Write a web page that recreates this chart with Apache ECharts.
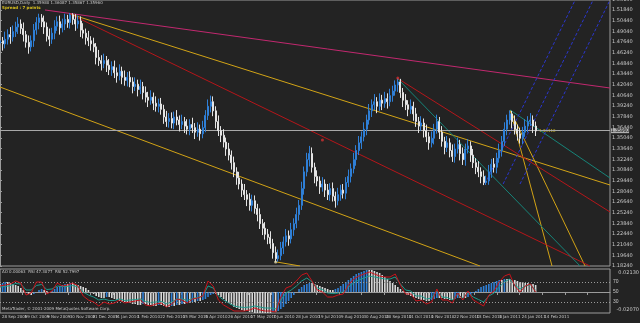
<!DOCTYPE html>
<html><head><meta charset="utf-8">
<script src="https://cdn.jsdelivr.net/npm/echarts@6/dist/echarts.min.js"></script>
<style>html,body{margin:0;padding:0;background:#232323;}#c{width:640px;height:323px;}</style>
</head><body><div id="c"></div>
<script>
// ---- data ----
const firstOpen = 1.475;
const closes = [1.478,1.474,1.480,1.486,1.483,1.490,1.496,1.500,1.494,1.486,
1.476,1.470,1.478,1.492,1.502,1.508,1.503,1.496,1.484,1.480,
1.488,1.497,1.503,1.495,1.500,1.506,1.502,1.512,1.506,1.500,
1.504,1.492,1.488,1.482,1.478,1.474,1.470,1.456,1.452,1.448,
1.452,1.446,1.440,1.444,1.436,1.432,1.438,1.430,1.426,1.430,
1.424,1.418,1.421,1.414,1.418,1.410,1.404,1.400,1.404,1.396,
1.392,1.395,1.388,1.378,1.372,1.376,1.370,1.378,1.374,1.368,
1.372,1.366,1.362,1.368,1.364,1.358,1.362,1.356,1.364,1.380,
1.392,1.398,1.386,1.372,1.360,1.354,1.345,1.336,1.328,1.318,
1.306,1.298,1.290,1.282,1.276,1.270,1.262,1.268,1.258,1.250,
1.238,1.232,1.224,1.220,1.212,1.200,1.192,1.196,1.206,1.214,
1.222,1.218,1.230,1.238,1.250,1.262,1.284,1.306,1.322,1.330,
1.312,1.300,1.294,1.286,1.290,1.282,1.276,1.284,1.274,1.268,
1.276,1.282,1.278,1.292,1.300,1.310,1.322,1.334,1.344,1.352,
1.362,1.374,1.386,1.394,1.398,1.392,1.400,1.396,1.402,1.398,
1.406,1.412,1.420,1.424,1.410,1.400,1.394,1.388,1.392,1.382,
1.372,1.366,1.370,1.360,1.352,1.344,1.350,1.362,1.372,1.358,
1.346,1.338,1.344,1.334,1.326,1.336,1.342,1.330,1.322,1.336,
1.340,1.328,1.318,1.312,1.306,1.300,1.292,1.294,1.306,1.316,
1.312,1.324,1.334,1.346,1.362,1.374,1.382,1.372,1.362,1.356,
1.350,1.358,1.366,1.372,1.374,1.366,1.3596];
const highs = [1.486,1.483,1.490,1.493,1.496,1.498,1.503,1.509,1.506,1.502,
1.491,1.485,1.485,1.500,1.509,1.5135,1.513,1.511,1.502,1.494,
1.495,1.505,1.510,1.511,1.507,1.5135,1.512,1.5144,1.5142,1.513,
1.511,1.510,1.501,1.494,1.491,1.484,1.482,1.475,1.466,1.459,
1.461,1.458,1.454,1.451,1.452,1.443,1.447,1.444,1.439,1.437,
1.438,1.430,1.430,1.427,1.427,1.424,1.418,1.411,1.413,1.410,
1.405,1.402,1.403,1.394,1.386,1.383,1.384,1.385,1.387,1.380,
1.381,1.378,1.375,1.375,1.377,1.370,1.371,1.368,1.373,1.387,
1.401,1.406,1.405,1.392,1.380,1.366,1.362,1.351,1.344,1.334,
1.326,1.312,1.306,1.296,1.290,1.282,1.278,1.276,1.275,1.264,
1.258,1.244,1.240,1.231,1.228,1.218,1.208,1.204,1.214,1.221,
1.231,1.229,1.239,1.245,1.259,1.269,1.293,1.313,1.331,1.340,
1.338,1.318,1.308,1.300,1.299,1.296,1.290,1.291,1.292,1.280,
1.285,1.289,1.290,1.299,1.309,1.317,1.331,1.341,1.353,1.359,
1.371,1.381,1.395,1.401,1.408,1.404,1.409,1.407,1.411,1.409,
1.415,1.419,1.426,1.4291,1.428,1.416,1.408,1.400,1.401,1.398,
1.390,1.378,1.379,1.376,1.368,1.358,1.359,1.369,1.381,1.378,
1.366,1.352,1.353,1.350,1.342,1.343,1.351,1.348,1.338,1.343,
1.349,1.346,1.336,1.324,1.320,1.312,1.308,1.301,1.315,1.323,
1.324,1.331,1.343,1.353,1.371,1.381,1.3865,1.386,1.380,1.368,
1.364,1.365,1.375,1.379,1.383,1.380,1.372];
const lows = [1.467,1.465,1.468,1.473,1.474,1.477,1.483,1.487,1.487,1.477,
1.469,1.461,1.464,1.470,1.486,1.493,1.496,1.487,1.477,1.471,
1.474,1.480,1.491,1.486,1.489,1.492,1.495,1.494,1.499,1.491,
1.494,1.483,1.481,1.473,1.471,1.465,1.463,1.447,1.445,1.439,
1.442,1.437,1.433,1.432,1.429,1.423,1.426,1.421,1.419,1.418,
1.417,1.409,1.412,1.405,1.408,1.401,1.397,1.391,1.394,1.387,
1.385,1.384,1.381,1.369,1.365,1.364,1.363,1.362,1.367,1.359,
1.362,1.357,1.355,1.354,1.357,1.349,1.352,1.347,1.350,1.358,
1.374,1.384,1.379,1.363,1.353,1.345,1.338,1.327,1.321,1.309,
1.299,1.289,1.283,1.273,1.269,1.261,1.255,1.254,1.251,1.241,
1.231,1.223,1.217,1.211,1.205,1.192,1.1876,1.188,1.190,1.198,
1.208,1.209,1.212,1.222,1.232,1.242,1.256,1.276,1.300,1.313,
1.305,1.291,1.287,1.277,1.280,1.273,1.269,1.268,1.267,1.259,
1.262,1.268,1.271,1.270,1.286,1.292,1.304,1.314,1.328,1.336,
1.346,1.354,1.368,1.378,1.387,1.383,1.386,1.387,1.390,1.389,
1.392,1.398,1.406,1.411,1.403,1.391,1.387,1.379,1.382,1.373,
1.365,1.357,1.360,1.351,1.345,1.335,1.338,1.342,1.356,1.349,
1.339,1.329,1.332,1.325,1.319,1.318,1.330,1.321,1.315,1.314,
1.330,1.319,1.311,1.303,1.299,1.291,1.2886,1.2888,1.289,1.298,
1.305,1.304,1.318,1.326,1.340,1.354,1.368,1.363,1.355,1.347,
1.343,1.342,1.352,1.358,1.366,1.357,1.353];
const aoValues = [0.008,0.009,0.010,0.010,0.009,0.008,0.007,0.006,
0.004,0.002,0.000,-0.002,-0.003,-0.002,0.000,0.002,0.003,0.002,0.001,0.000,0.001,0.003,0.005,
0.006,0.007,0.008,0.008,0.009,0.009,0.008,0.007,0.006,0.005,0.004,0.002,0.000,
-0.002,-0.004,-0.005,-0.006,-0.006,-0.005,-0.005,-0.006,-0.007,-0.008,
-0.009,-0.010,-0.010,-0.011,-0.011,-0.012,-0.012,-0.013,-0.013,-0.012,-0.012,-0.013,-0.013,-0.014,-0.014,-0.013,
-0.013,-0.014,-0.015,-0.015,-0.014,-0.014,-0.013,-0.013,-0.012,-0.012,-0.011,-0.011,-0.010,-0.010,-0.009,-0.009,
-0.008,-0.007,-0.005,-0.003,-0.002,-0.002,-0.003,-0.005,-0.007,-0.009,
-0.011,-0.013,-0.015,-0.016,-0.017,-0.018,-0.019,-0.019,-0.020,-0.020,-0.021,-0.021,-0.021,-0.021,-0.021,-0.021,-0.021,-0.020,-0.020,-0.019,-0.017,-0.015,-0.012,
-0.009,-0.006,-0.003,0.000,0.003,0.005,0.007,0.008,0.009,0.009,0.008,0.007,0.006,0.005,0.004,0.003,0.002,0.002,0.003,0.004,
0.006,0.008,0.010,0.012,0.014,0.016,0.018,0.019,0.020,0.021,0.022,0.022,0.022,0.021,0.020,0.019,0.017,0.015,0.013,0.011,0.009,0.007,0.005,
0.003,0.001,-0.001,-0.003,-0.004,-0.005,-0.006,-0.007,-0.008,-0.008,-0.009,-0.009,-0.008,-0.007,-0.006,-0.006,-0.006,-0.007,-0.007,-0.008,-0.008,-0.007,-0.006,-0.006,-0.006,-0.006,-0.005,-0.003,
-0.001,0.001,0.003,0.005,0.006,0.007,0.008,0.009,0.010,0.011,0.012,0.012,0.013,0.013,0.013,0.012,0.012,0.011,0.010,0.010,0.009,0.009,0.008,0.008,0.007];
// RSI lines, one point every 2 bars
const rsiRed = [62,64,66,72,68,44,48,70,70,46,
52,68,62,64,68,62,42,34,30,22,
30,26,28,34,28,30,32,34,24,22,
26,28,20,26,36,34,28,36,38,42,
72,62,34,24,18,12,12,12,14,18,
14,12,12,10,40,58,62,72,84,88,
72,54,50,40,40,44,46,64,76,82,
86,90,86,82,80,80,86,64,46,46,
32,34,26,30,56,34,34,28,48,34,
52,34,28,22,44,52,70,82,86,62,
50,62,66,50];
const rsiTeal = [60,61,63,67,66,54,54,63,65,55,
56,62,61,61,63,60,50,44,40,34,
36,33,33,36,33,34,35,36,31,29,
30,31,27,30,36,36,33,37,39,42,
62,58,42,34,28,22,20,19,20,22,
20,18,18,16,34,48,54,62,72,78,
70,58,55,48,47,48,50,60,68,74,
78,82,80,78,76,76,80,66,54,52,
42,42,36,38,52,40,39,34,45,38,
48,40,35,30,42,48,60,70,76,64,
56,62,64,54];
const rsiLevels = [70, 50, 30];
const dateLabels = ["28 Sep 2009","19 Oct 2009","9 Nov 2009","30 Nov 2009","21 Dec 2009","11 Jan 2010","1 Feb 2010","22 Feb 2010","15 Mar 2010","5 Apr 2010","26 Apr 2010","17 May 2010","7 Jun 2010","28 Jun 2010","19 Jul 2010","9 Aug 2010","30 Aug 2010","20 Sep 2010","11 Oct 2010","1 Nov 2010","22 Nov 2010","13 Dec 2010","3 Jan 2011","24 Jan 2011","14 Feb 2011"];
const bidPrice = 1.3596;
// trend lines: [x1, price1, x2, price2] in bar units
const pinkLines = [[17.3,1.5184,234.6,1.4160]];
const yellowLines = [[26.9,1.5131,234.6,1.2887],[0,1.4173,184.6,1.1824],[106.5,1.1876,115.4,1.1824],[196.2,1.3871,212.3,1.1824],[196.2,1.3871,225,1.1824]];
const redLines = [[26.9,1.5131,226.9,1.1824],[152.7,1.4291,234.6,1.2533]];
const tealLines = [[152.7,1.4291,223.1,1.1824],[196.2,1.3871,234.6,1.2979]];
const blueLines = [[186.5,1.2900,221.2,1.5315],[193.5,1.2900,228.1,1.5315],[200,1.2900,234.6,1.5315]];
const anchorPoints = [[153,1.4291,'#d03030'],[124,1.3478,'#d03030'],[106,1.1876,'#e8e0b0']];

// ---- build ----
const candles = closes.map((c, i) => [i, i === 0 ? firstOpen : closes[i - 1], c, lows[i], highs[i]]);
const aoData = aoValues.map((v, i) => ({value: [i, v], itemStyle: {color: (i > 0 && v > aoValues[i - 1]) ? '#2f7fd6' : '#d8d8d8'}}));
const redData = rsiRed.map((v, k) => [k * 2, v]);
const tealData = rsiTeal.map((v, k) => [k * 2, v]);
const lineSeries = [];
function addLines(arr, color, type) {
  arr.forEach(l => lineSeries.push({type: 'line', xAxisIndex: 0, yAxisIndex: 0, data: [[l[0], l[1]], [l[2], l[3]]],
    symbol: 'none', silent: true, clip: true, lineStyle: {color: color, width: 1, type: type || 'solid'}, z: 3}));
}
addLines(pinkLines, '#c2286f');
addLines(yellowLines, '#d2a316');
addLines(redLines, '#b5161a');
addLines(tealLines, '#168479');
addLines(blueLines, '#2a36d0', [3, 2]);
lineSeries.push({type: 'scatter', xAxisIndex: 0, yAxisIndex: 0, symbolSize: 3, z: 6,
  data: anchorPoints.map(p => ({value: [p[0], p[1]], itemStyle: {color: p[2]}}))});

const XMAX = 234.6, STEP = 8.69;
const chart = echarts.init(document.getElementById('c'), null, {renderer: 'canvas'});
const txt = '#c8c8c8';
chart.setOption({
  backgroundColor: '#232323',
  animation: false,
  grid: [
    {left: 0, right: 30, top: 0, height: 266, containLabel: false, outerBoundsMode: 'none', show: true, borderColor: '#9c9c9c', borderWidth: 1},
    {left: 0, right: 30, top: 269, height: 44, containLabel: false, outerBoundsMode: 'none', show: true, borderColor: '#9c9c9c', borderWidth: 1}
  ],
  xAxis: [
    {type: 'value', gridIndex: 0, min: 0, max: XMAX, show: false, splitLine: {show: false}},
    {type: 'value', gridIndex: 1, min: 0, max: XMAX, interval: STEP, position: 'bottom',
      axisLine: {show: true, lineStyle: {color: '#9c9c9c'}}, splitLine: {show: false},
      axisTick: {show: true, length: 3, lineStyle: {color: '#9c9c9c'}},
      axisLabel: {show: true, interval: 0, showMinLabel: false, showMaxLabel: false, hideOverlap: false, color: txt, fontSize: 4, fontFamily: 'DejaVu Sans', margin: 2, align: 'left', padding: [0, 0, 0, 2],
        formatter: v => dateLabels[Math.round(v / STEP)] || ''}}
  ],
  yAxis: [
    {type: 'value', gridIndex: 0, min: 1.1824, max: 1.5315, interval: 0.014, position: 'right',
      axisLine: {show: true, lineStyle: {color: '#9c9c9c'}}, splitLine: {show: false},
      axisTick: {show: true, length: 2, inside: false, lineStyle: {color: '#9c9c9c'}},
      axisLabel: {color: txt, fontSize: 5, fontFamily: 'DejaVu Sans', margin: 2, formatter: v => v.toFixed(5)}},
    {type: 'value', gridIndex: 1, min: 8, max: 96, show: false, splitLine: {show: false}},
    {type: 'value', gridIndex: 1, min: -0.021, max: 0.023, show: false, splitLine: {show: false}}
  ],
  series: [
    {type: 'candlestick', xAxisIndex: 0, yAxisIndex: 0, data: candles, encode: {x: 0, y: [1, 2, 3, 4]},
      barWidth: 1.6, z: 5,
      itemStyle: {color: '#2f7fd6', color0: '#e4e4e4', borderColor: '#2f7fd6', borderColor0: '#e4e4e4', borderWidth: 1},
      markLine: {symbol: 'none', silent: true, data: [{yAxis: bidPrice}], lineStyle: {color: '#a8a8a8', type: 'solid', width: 1},
        label: {show: true, position: 'end', distance: 1, fontSize: 5, color: '#111', backgroundColor: '#b0b0b0', formatter: bidPrice.toFixed(5)}}},
    {type: 'bar', xAxisIndex: 1, yAxisIndex: 2, data: aoData, barWidth: 1.6, z: 2},
    {type: 'line', xAxisIndex: 1, yAxisIndex: 1, data: tealData, symbol: 'none', lineStyle: {color: '#1e9a8c', width: 1}, z: 4,
      markLine: {symbol: 'none', silent: true, data: rsiLevels.map(v => ({yAxis: v})), lineStyle: {color: '#9a9a9a', type: [1, 2], width: 1},
        label: {show: true, position: 'end', distance: 3, fontSize: 5, color: txt, formatter: p => String(p.value)}}},
    {type: 'line', xAxisIndex: 1, yAxisIndex: 1, data: redData, symbol: 'none', lineStyle: {color: '#c8141c', width: 1}, z: 5}
  ].concat(lineSeries),
  graphic: [
    {type: 'text', left: 2, top: 1, style: {text: 'EURUSD,Daily  1.35980 1.36087 1.35867 1.35960', fill: txt, font: '4px DejaVu Sans'}},
    {type: 'text', left: 2, top: 6, style: {text: 'Spread : 7 points', fill: '#d8c020', font: 'bold 4px DejaVu Sans'}},
    {type: 'text', left: 2, top: 270, style: {text: 'AO 0.00063  RSI 47.3077  RSI 52.7997', fill: txt, font: '4px DejaVu Sans'}},
    {type: 'text', left: 2, top: 307, style: {text: 'MetaTrader, \u00a9 2001-2009 MetaQuotes Software Corp.', fill: txt, font: '4px DejaVu Sans'}},
    {type: 'text', left: 2, top: 315, style: {text: dateLabels[0], fill: txt, font: '4px DejaVu Sans'}},
    {type: 'text', left: 539, top: 129, style: {text: '1.36110', fill: '#d8c020', font: '4px DejaVu Sans'}},
    {type: 'text', right: 1, top: 270, style: {text: '0.02130', fill: txt, font: '5px DejaVu Sans'}},
    {type: 'text', right: 1, top: 307, style: {text: '-0.02070', fill: txt, font: '5px DejaVu Sans'}}
  ]
});
</script></body></html>
